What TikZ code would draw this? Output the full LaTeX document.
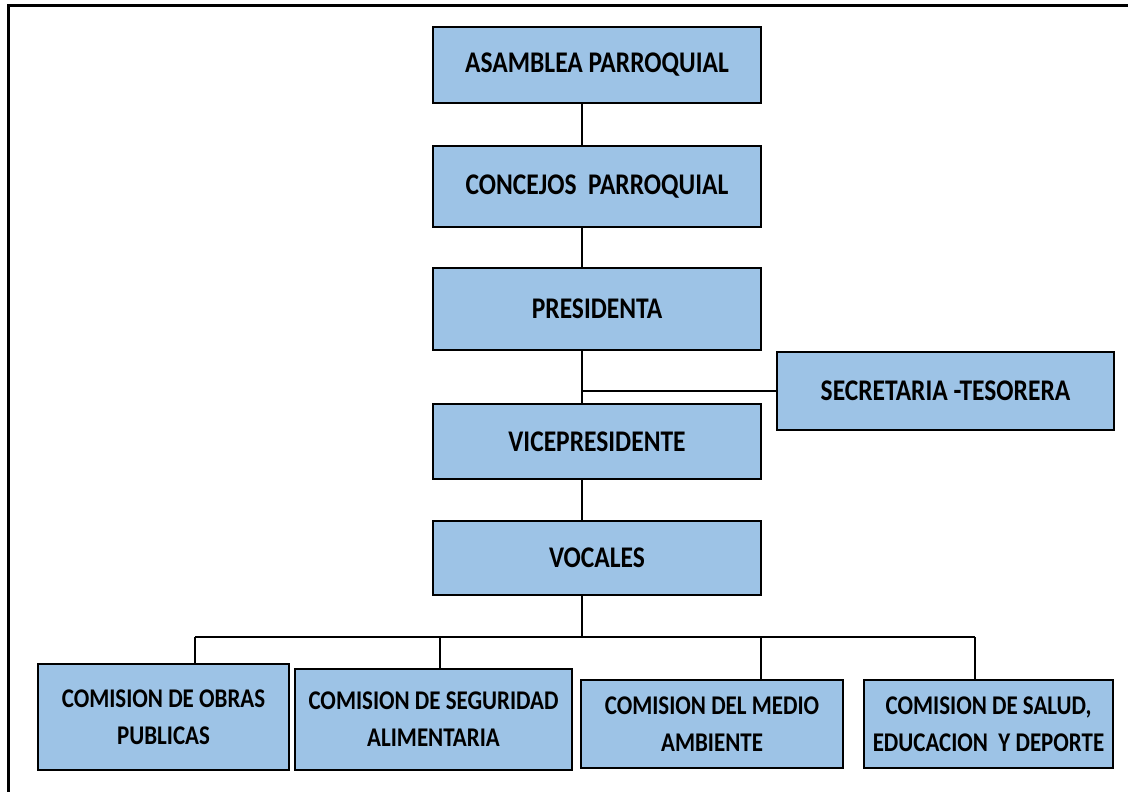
\documentclass[tikz,border=0pt]{standalone}
\usepackage{fontspec}
\setmainfont{Carlito}
\newfontfamily\boxfont{Carlito}[FakeStretch=0.85]
\usepackage{tikz}
\usetikzlibrary{positioning}
\definecolor{boxblue}{HTML}{9DC3E6}

\begin{document}
\begin{tikzpicture}[
    x=1pt, y=-1pt,
    box/.style={draw, line width=1.4pt, fill=boxblue, align=center, inner sep=0pt, font=\boxfont\bfseries\fontsize{30}{36}\selectfont},
    combox/.style={box, font=\boxfont\bfseries\fontsize{27}{37}\selectfont},
    link/.style={line width=1.4pt}
]
\useasboundingbox (0,0) rectangle (1128,792);
\draw[line width=3pt] (8,792) -- (8,6) -- (1128,6);

\node[box, minimum width=328pt, minimum height=76pt] (asamblea) at (597,65) {ASAMBLEA PARROQUIAL};
\node[box, minimum width=328pt, minimum height=81pt] (concejos) at (597,186.5) {CONCEJOS \ PARROQUIAL};
\node[box, minimum width=328pt, minimum height=82pt] (presidenta) at (597,309) {PRESIDENTA};
\node[box, minimum width=337pt, minimum height=78pt] (secretaria) at (945.5,391) {SECRETARIA -TESORERA};
\node[box, minimum width=328pt, minimum height=75pt] (vice) at (597,441.5) {VICEPRESIDENTE};
\node[box, minimum width=328pt, minimum height=74pt] (vocales) at (597,558) {VOCALES};

\node[combox, minimum width=251pt, minimum height=106pt] (obras) at (163.5,717) {COMISION DE OBRAS\\PUBLICAS};
\node[combox, minimum width=277pt, minimum height=101pt] (seguridad) at (433.5,719.5) {COMISION DE SEGURIDAD\\ALIMENTARIA};
\node[combox, minimum width=262pt, minimum height=88pt] (medio) at (712,724) {COMISION DEL MEDIO\\AMBIENTE};
\node[combox, minimum width=249pt, minimum height=88pt] (salud) at (988.5,724) {COMISION DE SALUD,\\EDUCACION \ Y DEPORTE};

% spine and bus
\coordinate (spine) at (582,0);
\coordinate (bus) at (0,637);
\coordinate (sec) at (0,391);

\draw[link] (asamblea.south -| spine) -- (concejos.north -| spine);
\draw[link] (concejos.south -| spine) -- (presidenta.north -| spine);
\draw[link] (presidenta.south -| spine) -- (vice.north -| spine);
\draw[link] (sec -| spine) -- (secretaria.west);
\draw[link] (vice.south -| spine) -- (vocales.north -| spine);
\draw[link] (vocales.south -| spine) -- (bus -| spine);
\draw[link] (195,637) -- (975,637);
\draw[link] (195,637) -- (obras.north -| 195,0);
\draw[link] (440,637) -- (seguridad.north -| 440,0);
\draw[link] (761,637) -- (medio.north -| 761,0);
\draw[link] (975,637) -- (salud.north -| 975,0);
\end{tikzpicture}
\end{document}
